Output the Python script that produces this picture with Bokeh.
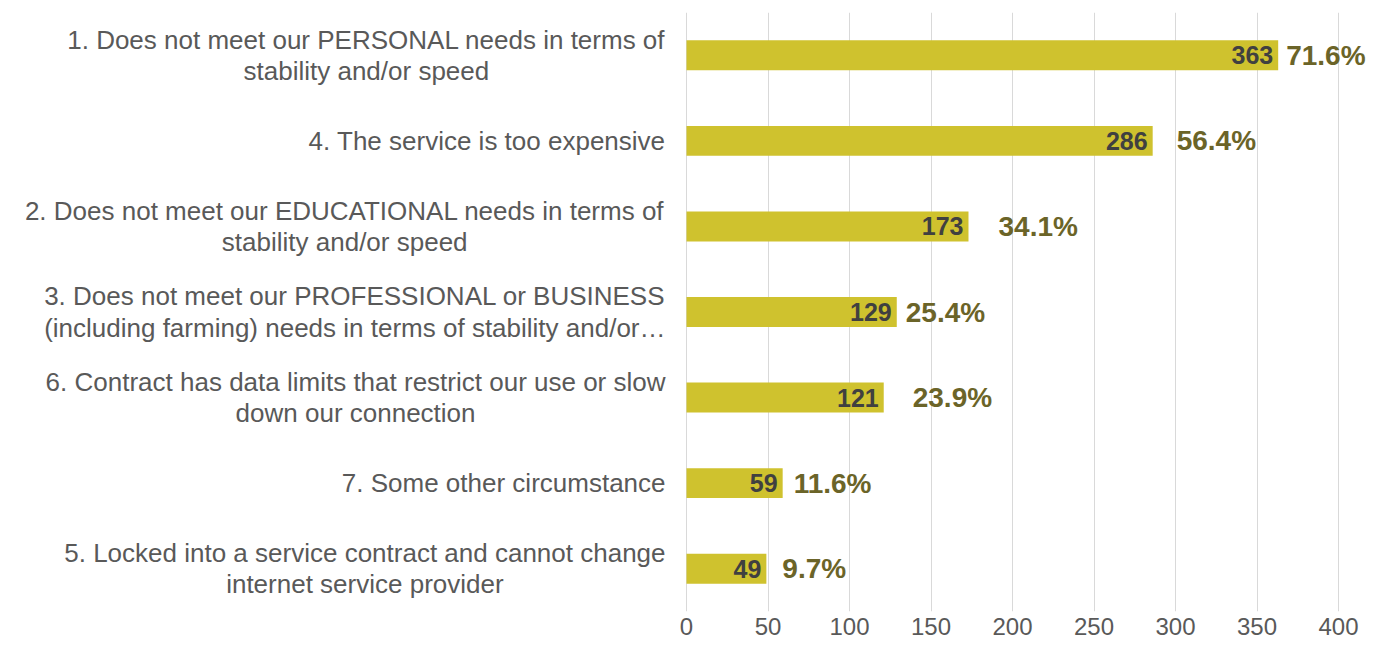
from bokeh.plotting import figure
from bokeh.models import ColumnDataSource, FactorRange, Range1d, FixedTicker
from bokeh.core.properties import value
from bokeh.embed import file_html
from bokeh.resources import INLINE

categories = [
    "1. Does not meet our PERSONAL needs in terms of\nstability and/or speed",
    "4. The service is too expensive",
    "2. Does not meet our EDUCATIONAL needs in terms of\nstability and/or speed",
    "3. Does not meet our PROFESSIONAL or BUSINESS\n(including farming) needs in terms of stability and/or\u2026",
    "6. Contract has data limits that restrict our use or slow\ndown our connection",
    "7. Some other circumstance",
    "5. Locked into a service contract and cannot change\ninternet service provider",
]
counts = [363, 286, 173, 129, 121, 59, 49]
percents = ["71.6%", "56.4%", "34.1%", "25.4%", "23.9%", "11.6%", "9.7%"]
x_ticks = [0, 50, 100, 150, 200, 250, 300, 350, 400]

# ---- styling ----
# pixel gaps of the percentage labels from the bar ends
pct_offsets = [8, 24, 30, 9, 29, 11, 16]

FONT = "Liberation Sans"
CAT_SIZE = 26
W, H = 1367, 648
px_per_unit = 1.63
zero_px = 686
x_start = -zero_px / px_per_unit
x_end = (W - zero_px) / px_per_unit
LABEL_RIGHT = -21  # px from the zero line

# Arial / Liberation Sans advance widths (per 1000 em) to centre wrapped lines
_AW = {' ': 278, '.': 278, '/': 278, '(': 333, ')': 333, '\u2026': 1000,
       'A': 667, 'B': 667, 'C': 722, 'D': 722, 'E': 667, 'F': 611, 'G': 778,
       'H': 722, 'I': 278, 'J': 500, 'K': 667, 'L': 556, 'M': 833, 'N': 722,
       'O': 778, 'P': 667, 'Q': 778, 'R': 722, 'S': 667, 'T': 611, 'U': 722,
       'V': 667, 'W': 944, 'X': 667, 'Y': 667, 'Z': 611,
       'a': 556, 'b': 556, 'c': 500, 'd': 556, 'e': 556, 'f': 278, 'g': 556,
       'h': 556, 'i': 222, 'j': 222, 'k': 500, 'l': 222, 'm': 833, 'n': 556,
       'o': 556, 'p': 556, 'q': 556, 'r': 333, 's': 500, 't': 278, 'u': 556,
       'v': 500, 'w': 722, 'x': 500, 'y': 500, 'z': 500}


def text_width(s, size):
    return sum(_AW.get(ch, 556) for ch in s) * size / 1000.0


cat_offsets = [LABEL_RIGHT - text_width(c.split("\n")[0], CAT_SIZE) / 2.0
               for c in categories]

p = figure(
    width=W, height=H,
    y_range=FactorRange(factors=list(reversed(categories)), range_padding=0),
    x_range=Range1d(x_start, x_end),
    output_backend="svg", toolbar_location=None,
    min_border_left=0, min_border_right=0, min_border_top=12, min_border_bottom=37,
)
p.outline_line_color = None
p.background_fill_color = "white"
p.border_fill_color = "white"

src = ColumnDataSource(dict(
    cat=categories, count=counts, pct=percents,
    lbl=[str(c) for c in counts], zero=[0] * len(counts),
    off=pct_offsets, catoff=cat_offsets,
))

p.hbar(y="cat", left=0, right="count", height=0.35, source=src,
       fill_color="#cfc22e", line_color=None)

# value labels inside bar end
p.text(x="count", y="cat", text="lbl", source=src, x_offset=-5,
       text_align="right", text_baseline="middle",
       text_font=value(FONT), text_font_style="bold",
       text_font_size="25px", text_color="#404040")

# percentage labels
p.text(x="count", y="cat", text="pct", source=src, x_offset="off",
       text_align="left", text_baseline="middle",
       text_font=value(FONT), text_font_style="bold",
       text_font_size="28px", text_color="#6b6428")

# category labels (lines centred, block right-aligned)
p.text(x="zero", y="cat", text="cat", source=src, x_offset="catoff",
       text_align="center", text_baseline="middle", text_line_height=1.04,
       text_font=value(FONT), text_font_size=f"{CAT_SIZE}px",
       text_color="#595959")

p.yaxis.visible = False
p.ygrid.grid_line_color = None

p.xaxis.ticker = FixedTicker(ticks=x_ticks)
p.xaxis.axis_line_color = None
p.xaxis.major_tick_line_color = None
p.xaxis.minor_tick_line_color = None
p.xaxis.major_tick_out = 0
p.xaxis.major_tick_in = 0
p.xaxis.major_label_standoff = 6
p.xaxis.major_label_text_font = FONT
p.xaxis.major_label_text_font_size = "24px"
p.xaxis.major_label_text_color = "#595959"
p.xgrid.ticker = FixedTicker(ticks=x_ticks)
p.xgrid.grid_line_color = "#d9d9d9"
p.xgrid.grid_line_width = 1

open("out.html", "w").write(file_html(p, INLINE))
